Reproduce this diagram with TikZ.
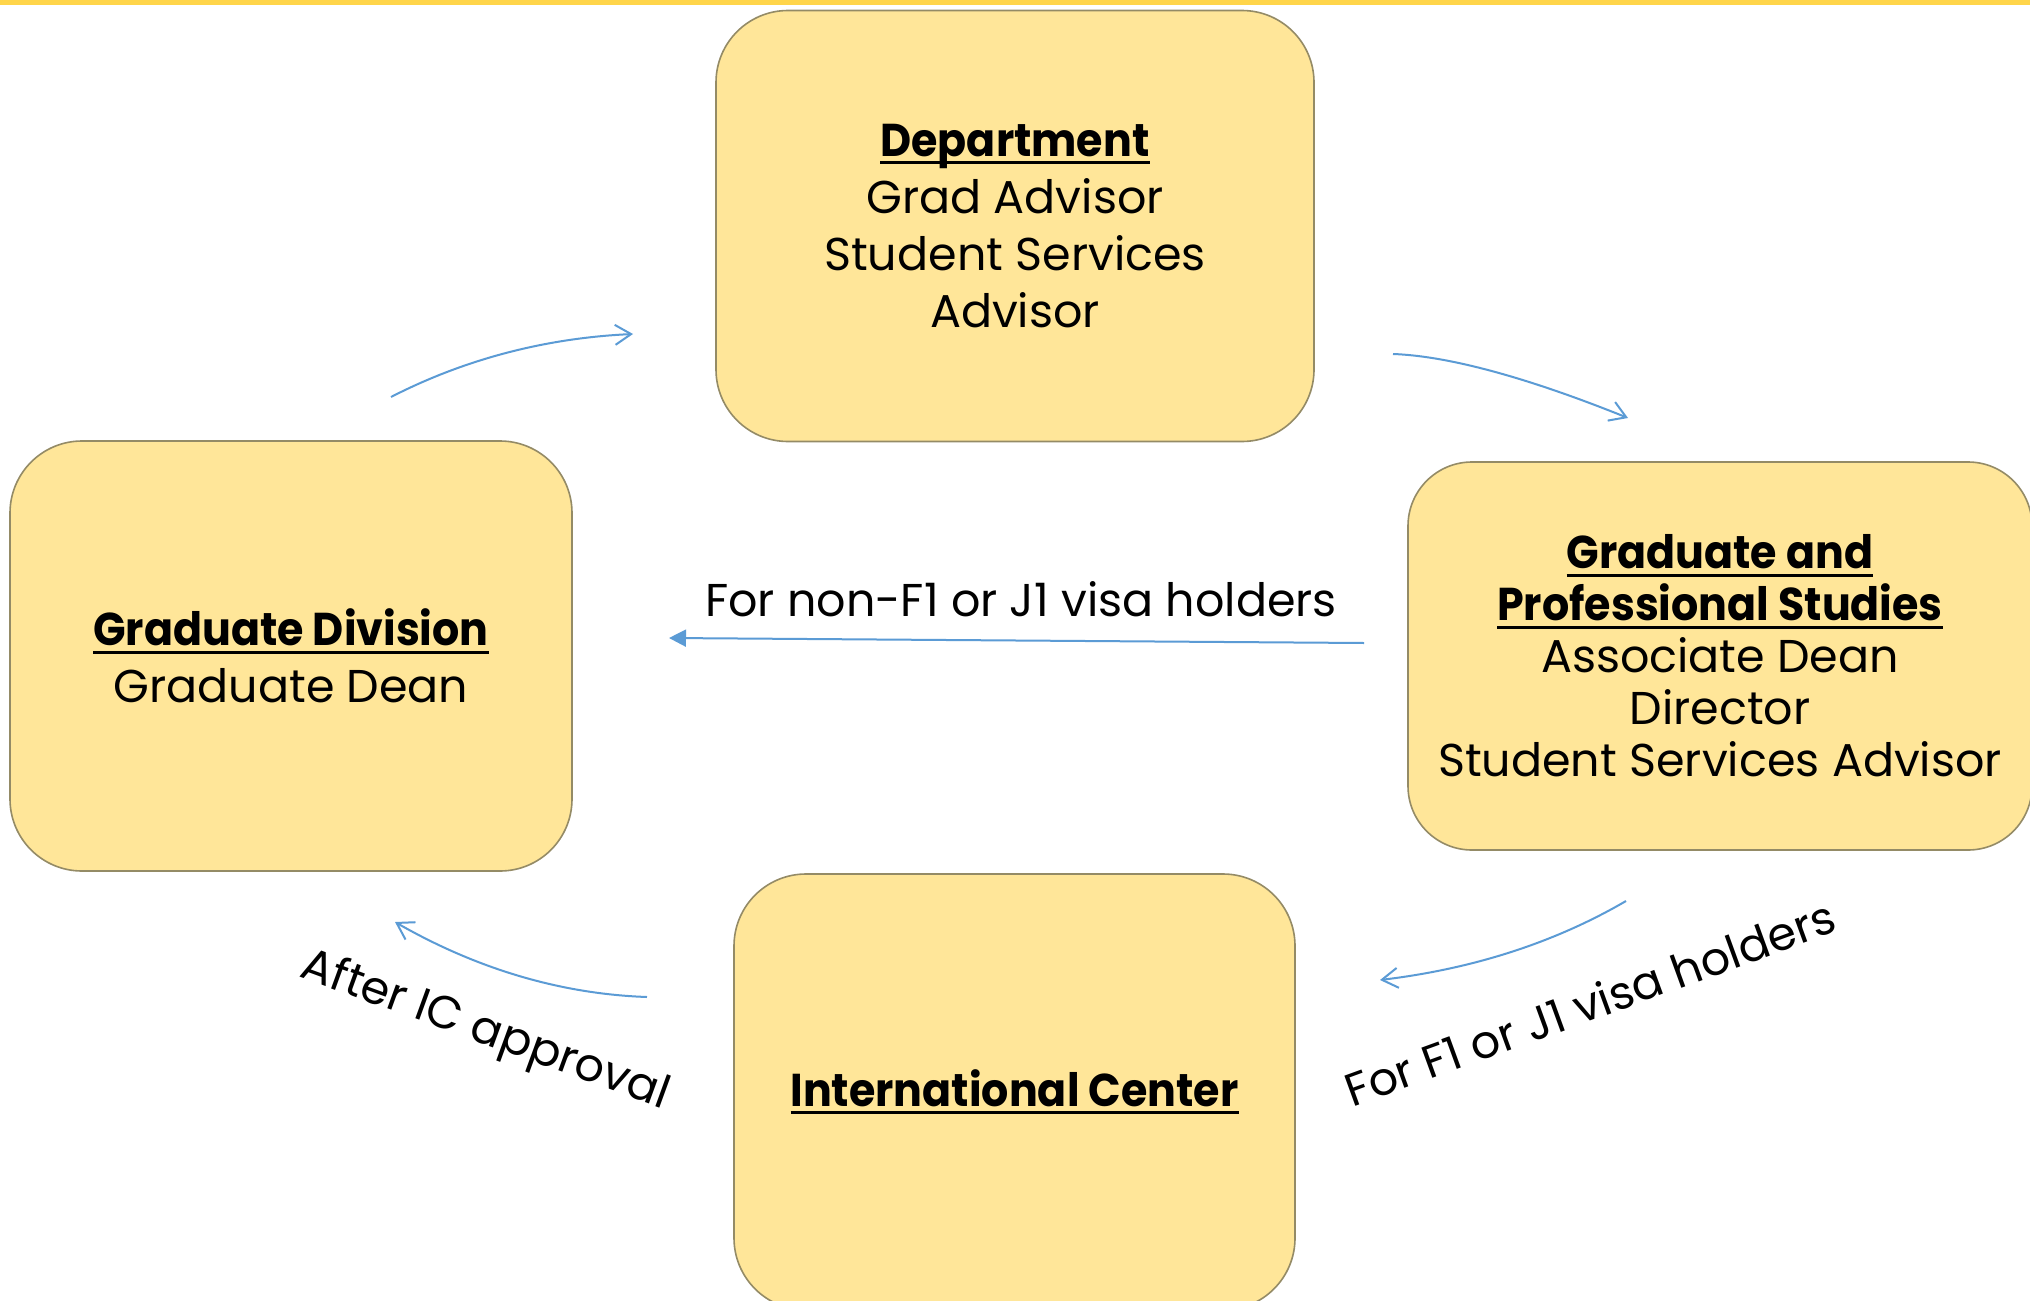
\documentclass[tikz,border=0pt]{standalone}
\usepackage{fontspec}
\usepackage{graphicx}
\setmainfont{Poppins}
\usetikzlibrary{arrows.meta}
\definecolor{boxfill}{HTML}{FFE699}
\definecolor{boxline}{HTML}{948B66}
\definecolor{arrowblue}{HTML}{5B9BD5}
\definecolor{topbar}{HTML}{FFD54A}
\newcommand\hdr[1]{\setbox0\hbox{\scalebox{0.93}[1]{\bfseries #1}}\leavevmode\rlap{\usebox0}\rule[-4pt]{\wd0}{1.5pt}}
\begin{document}
\begin{tikzpicture}[x=0.5pt,y=-0.5pt,
  box/.style={draw=boxline, fill=boxfill, line width=0.8pt, rounded corners=36pt,
    inner sep=0pt, align=center, font=\fontsize{23}{28.5}\selectfont},
  lbl/.style={inner sep=0pt, font=\fontsize{23}{28}\selectfont},
  arr/.style={draw=arrowblue, line width=1pt, -{Straight Barb[length=8pt,width=10pt]}},
  arrf/.style={draw=arrowblue, line width=1pt, -{Triangle[length=8.5pt,width=8.5pt]}}]
\fill[white] (0,0) rectangle (2030,1301);
\clip (0,0) rectangle (2030,1301);
\fill[topbar] (0,0) rectangle (2030,5);
% boxes
\node[box, minimum width=299pt, minimum height=215.5pt] (dept) at (1015,226)
  {\hdr{Department}\\Grad Advisor\\Student Services\\Advisor};
\node[box, minimum width=281pt, minimum height=215pt] (gd) at (291,656)
  {\hdr{Graduate Division}\\Graduate Dean};
\node[box, rounded corners=32pt, minimum width=312pt, minimum height=194pt,
  font=\fontsize{23}{26}\selectfont] (gps) at (1720,656)
  {\hdr{Graduate and}\\\hdr{Professional Studies}\\Associate Dean\\Director\\Student Services Advisor};
\node[box, minimum width=280.5pt, minimum height=218pt] (ic) at (1014.5,1092)
  {\hdr{International Center}};
% labels
\node[lbl] (lnon) at (1021,599) {For non-F1 or J1 visa holders};
\node[lbl, rotate=-20] (lafter) at (485,1032) {After IC approval};
\node[lbl, rotate=20] (lfor) at (1590,1003) {For F1 or J1 visa holders};
% arrow end points
\coordinate (a1s) at (391,397);  \coordinate (a1e) at (633,334);
\coordinate (a2s) at (1393,354); \coordinate (a2e) at (1628,418);
\coordinate (a3s) at (1626,901); \coordinate (a3e) at (1380,980);
\coordinate (a4s) at (647,997);  \coordinate (a4e) at (395,922);
\coordinate (a5s) at (1364,643); \coordinate (a5e) at (669,638);
\draw[arr] (a1s) .. controls (465,359) and (546,338) .. (a1e);
\draw[arr] (a2s) .. controls (1448,356) and (1526,377) .. (a2e);
\draw[arr] (a3s) .. controls (1554,943) and (1472,969) .. (a3e);
\draw[arr] (a4s) .. controls (561,994) and (477,969) .. (a4e);
\draw[arrf] (a5s) -- (a5e);
\end{tikzpicture}
\end{document}
